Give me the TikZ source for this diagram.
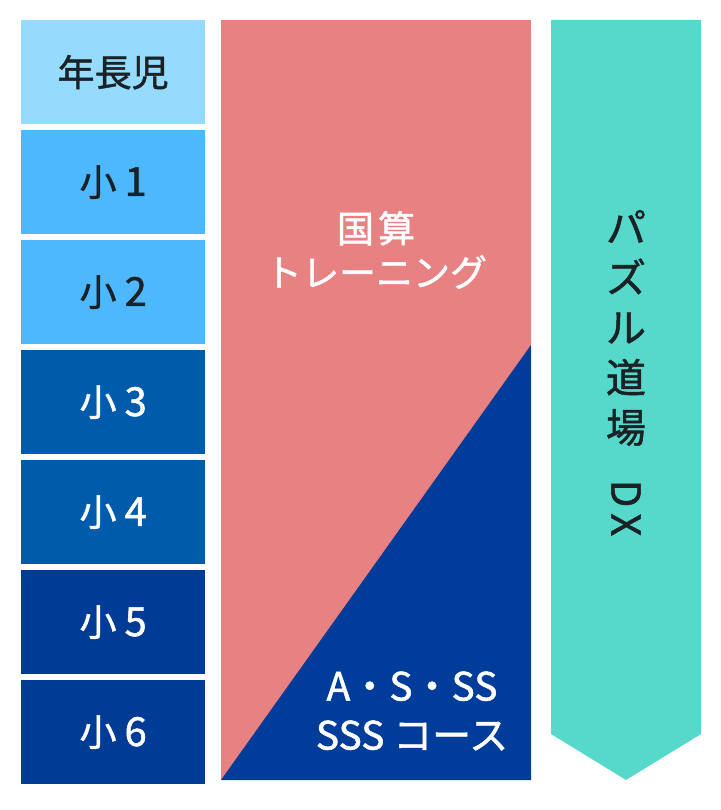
\documentclass[tikz,border=0pt]{standalone}
\usepackage{fontspec}
\setmainfont{Noto Sans CJK JP}[FakeBold=1.3]
\definecolor{kinder}{HTML}{94DBFE}
\definecolor{lowg}{HTML}{4DB8FD}
\definecolor{midg}{HTML}{005BAB}
\definecolor{highg}{HTML}{003C96}
\definecolor{pinkc}{HTML}{E88181}
\definecolor{navyc}{HTML}{003C99}
\definecolor{tealc}{HTML}{56D8CB}
\definecolor{inkc}{HTML}{1B2226}
\tikzset{
  grade/.style={minimum width=184pt, minimum height=104pt, inner sep=0pt, anchor=north west, font=\fontsize{37}{40}\selectfont},
  whitetext/.style={text=white, align=center, inner sep=0pt},
}
\begin{document}
\begin{tikzpicture}[x=1pt,y=-1pt]
\useasboundingbox (0,0) rectangle (720,810);
% left column
\node[grade, fill=kinder, text=inkc] (g0) at (21,20) {年長児};
\node[grade, fill=lowg, text=inkc] (g1) at (21,130) {小\hspace{8pt}{\fontsize{40}{40}\selectfont 1}};
\node[grade, fill=lowg, text=inkc] (g2) at (21,240) {小\hspace{8pt}{\fontsize{40}{40}\selectfont 2}};
\node[grade, fill=midg, text=white] (g3) at (21,350) {小\hspace{8pt}{\fontsize{40}{40}\selectfont 3}};
\node[grade, fill=midg, text=white] (g4) at (21,460) {小\hspace{8pt}{\fontsize{40}{40}\selectfont 4}};
\node[grade, fill=highg, text=white] (g5) at (21,570) {小\hspace{8pt}{\fontsize{40}{40}\selectfont 5}};
\node[grade, fill=highg, text=white] (g6) at (21,680) {小\hspace{8pt}{\fontsize{40}{40}\selectfont 6}};
% middle column
\fill[pinkc] (221,20) rectangle (531,780);
\fill[navyc] (221,780) -- (531,345) -- (531,780) -- cycle;
\node[whitetext, font=\fontsize{37}{44}\selectfont] (kokusan) at (376,250) {国\hspace{4pt}算\\トレーニング};
\node[whitetext, font=\fontsize{39}{49}\selectfont] (course) at (412,711) {A・S・SS\\SSS コース};
% right column
\fill[tealc] (551,20) -- (701,20) -- (701,734) -- (626,780) -- (551,734) -- cycle;
\node[text=inkc, font=\fontsize{40}{50}\selectfont, align=center, inner sep=0pt] (puzzle) at (626,328) {パ\\ズ\\ル\\道\\場};
\node[text=inkc, font=\fontsize{40}{50}\selectfont, inner sep=0pt, rotate=-90] (dx) at (626,508) {D\hspace{6pt}X};
\end{tikzpicture}
\end{document}
